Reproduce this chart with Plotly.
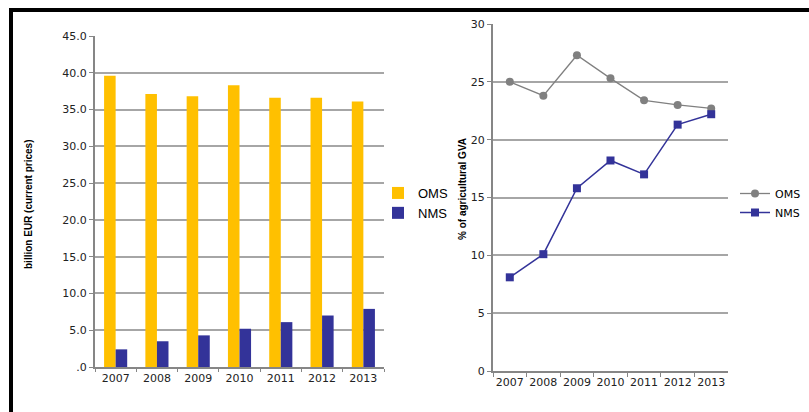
import plotly.graph_objects as go

years = ["2007", "2008", "2009", "2010", "2011", "2012", "2013"]
oms_billion = [39.6, 37.1, 36.8, 38.3, 36.6, 36.6, 36.1]
nms_billion = [2.4, 3.5, 4.3, 5.2, 6.1, 7.0, 7.9]
oms_share = [25.0, 23.8, 27.3, 25.3, 23.4, 23.0, 22.7]
nms_share = [8.1, 10.1, 15.8, 18.2, 17.0, 21.3, 22.2]
left_ticks = [0, 5, 10, 15, 20, 25, 30, 35, 40, 45]
left_ticktext = [".0", "5.0", "10.0", "15.0", "20.0", "25.0", "30.0", "35.0", "40.0", "45.0"]
right_ticks = [0, 5, 10, 15, 20, 25, 30]

W, H = 809, 412
YELLOW = "#FFC000"
NAVY = "#333399"
GREY = "#808080"
GRID = "#A6A6A6"
AXIS = "#868686"
TICKFONT = dict(family="DejaVu Sans, Arial, sans-serif", size=11, color="#222222")
TITLEFONT = dict(family="Liberation Sans Narrow, Arial Narrow, sans-serif", size=10, color="#000000")

fig = go.Figure()

fig.add_trace(go.Bar(x=years, y=oms_billion, name="OMS", marker=dict(color=YELLOW, line=dict(width=0)),
                     xaxis="x", yaxis="y", legend="legend"))
fig.add_trace(go.Bar(x=years, y=nms_billion, name="NMS", marker=dict(color=NAVY, line=dict(width=0)),
                     xaxis="x", yaxis="y", legend="legend"))

fig.add_trace(go.Scatter(x=years, y=oms_share, name="OMS", mode="lines+markers",
                         line=dict(color=GREY, width=1.3), marker=dict(symbol="circle", size=8, color=GREY),
                         xaxis="x2", yaxis="y2", legend="legend2"))
fig.add_trace(go.Scatter(x=years, y=nms_share, name="NMS", mode="lines+markers",
                         line=dict(color=NAVY, width=1.5), marker=dict(symbol="square", size=8, color=NAVY),
                         xaxis="x2", yaxis="y2", legend="legend2"))

fig.update_layout(
    width=W, height=H,
    margin=dict(l=0, r=0, t=0, b=0, autoexpand=False),
    paper_bgcolor="white", plot_bgcolor="white",
    barmode="group", bargap=0.44, bargroupgap=0.0,
    xaxis=dict(domain=[95 / W, 384 / W], anchor="y", type="category", tickangle=0,
               showline=True, linecolor=AXIS, linewidth=2, ticks="outside", tickson="boundaries",
               ticklen=3, tickcolor=AXIS, tickfont=TICKFONT, showgrid=False, automargin=False),
    yaxis=dict(domain=[(H - 367) / H, (H - 36) / H], anchor="x", range=[0, 45],
               tickvals=left_ticks, ticktext=left_ticktext, tickfont=TICKFONT, automargin=False,
               showline=True, linecolor=AXIS, linewidth=2, ticks="outside", ticklen=4, tickcolor=AXIS,
               showgrid=True, gridcolor=GRID, gridwidth=1.5, zeroline=False),
    xaxis2=dict(domain=[493 / W, 728 / W], anchor="y2", type="category", range=[-0.5, 6.5], tickangle=0,
                showline=True, linecolor=AXIS, linewidth=2, ticks="outside", tickson="boundaries",
                ticklen=4, tickcolor=AXIS, tickfont=TICKFONT, showgrid=False, automargin=False),
    yaxis2=dict(domain=[(H - 371) / H, (H - 24) / H], anchor="x2", range=[0, 30],
                tickvals=right_ticks, tickfont=TICKFONT, automargin=False,
                showline=True, linecolor=AXIS, linewidth=2, ticks="outside", ticklen=4, tickcolor=AXIS,
                showgrid=True, gridcolor=GRID, gridwidth=1.5, zeroline=False),
    legend=dict(x=378 / W, y=(H - 178) / H, xanchor="left", yanchor="top",
                font=dict(family="Liberation Sans, Arial, sans-serif", size=13, color="#000000"),
                bgcolor="rgba(0,0,0,0)", tracegroupgap=0),
    legend2=dict(x=735 / W, y=(H - 179) / H, xanchor="left", yanchor="top",
                 font=dict(family="DejaVu Sans, Arial, sans-serif", size=11, color="#000000"),
                 bgcolor="rgba(0,0,0,0)", tracegroupgap=0),
    annotations=[
        dict(text="<b>billion EUR (current prices)</b>", textangle=-90, xref="paper", yref="paper",
             x=28 / W, y=(H - 205) / H, xanchor="center", yanchor="middle", showarrow=False, font=TITLEFONT),
        dict(text="<b>% of agricultural GVA</b>", textangle=-90, xref="paper", yref="paper",
             x=462 / W, y=(H - 189) / H, xanchor="center", yanchor="middle", showarrow=False, font=TITLEFONT),
    ],
    shapes=[
        dict(type="line", xref="paper", yref="paper", x0=9 / W, x1=1.0, y0=(H - 10) / H, y1=(H - 10) / H,
             line=dict(color="black", width=4)),
        dict(type="line", xref="paper", yref="paper", x0=11 / W, x1=11 / W, y0=0, y1=(H - 8) / H,
             line=dict(color="black", width=4)),
    ],
)

fig.write_html("out.html", config={"displayModeBar": False},
               post_script="document.body.style.margin='0';document.body.style.overflow='hidden';")
